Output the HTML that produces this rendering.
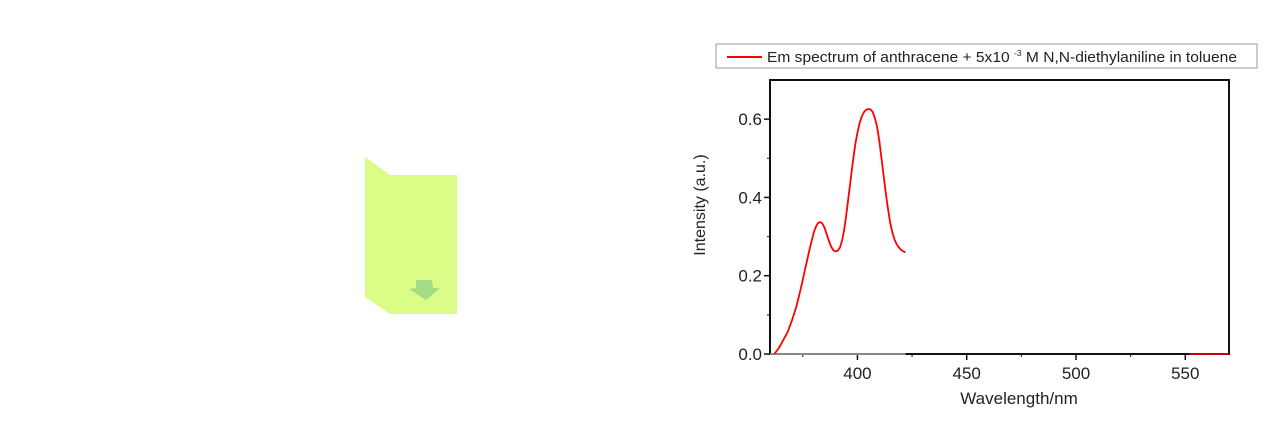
<!DOCTYPE html>
<html><head><meta charset="utf-8"><style>
body{margin:0;background:#fff;width:1272px;height:418px;overflow:hidden;font-family:"Liberation Sans",sans-serif}
</style></head><body>
<svg width="1272" height="418" font-family="Liberation Sans, sans-serif">
<g>
<polygon points="365,157 390,175 457,175 457,314 390,314 365,297" fill="#dcfc88"/>
<polygon points="416,280 432,280 433,288 440,288 426,300 409,289 416,288" fill="#a5dc88"/>
</g>
<g>
<rect x="716" y="44" width="541" height="24" fill="#fff" stroke="#999" stroke-width="1"/>
<line x1="727" y1="57" x2="762" y2="57" stroke="#f00" stroke-width="2"/>
<text x="767" y="62" font-size="14.5" fill="#222" textLength="470" lengthAdjust="spacingAndGlyphs">Em spectrum of anthracene + 5x10 <tspan dy="-6" font-size="8">-3</tspan><tspan dy="6"> M N,N-diethylaniline in toluene</tspan></text>
</g>
<g id="plot"></g>
<text x="1019" y="404" font-size="17" text-anchor="middle" fill="#222">Wavelength/nm</text>
<text transform="translate(705,205) rotate(-90)" font-size="16" text-anchor="middle" fill="#222">Intensity (a.u.)</text>
</svg>
<script>
const wavelengths=[362,364,366,368,370,372,374,376,378,380,381,382,383,384,385,386,387,388,389,390,391,392,393,394,395,396,397,398,399,400,401,402,403,404,405,406,407,408,409,410,411,412,413,414,415,416,417,418,419,420,421,422];
const intensities=[0,0.015,0.035,0.055,0.085,0.12,0.165,0.215,0.265,0.31,0.325,0.335,0.337,0.333,0.322,0.305,0.288,0.274,0.265,0.262,0.264,0.272,0.29,0.32,0.36,0.405,0.45,0.495,0.535,0.565,0.59,0.607,0.618,0.624,0.626,0.625,0.618,0.603,0.58,0.545,0.5,0.455,0.41,0.37,0.335,0.31,0.292,0.28,0.272,0.266,0.262,0.26];
const xTicks=[400,450,500,550];
const yTicks=[0.0,0.2,0.4,0.6];
const NS="http://www.w3.org/2000/svg";
const L=770,R=1229,T=80,B=354,xmin=360,xmax=570,ymin=0,ymax=0.7;
const X=v=>L+(v-xmin)/(xmax-xmin)*(R-L);
const Y=v=>B-(v-ymin)/(ymax-ymin)*(B-T);
const g=document.getElementById('plot');
function mk(t,a){const e=document.createElementNS(NS,t);for(const k in a)e.setAttribute(k,a[k]);g.appendChild(e);return e;}
const fr=mk('rect',{x:L,y:T,width:R-L,height:B-T,fill:'none',stroke:'#111','stroke-width':2});


xTicks.forEach(v=>{
const t=mk('line',{x1:X(v),y1:B,x2:X(v),y2:B+6,stroke:'#111','stroke-width':1.5});


const s=mk('text',{x:X(v),y:B+25,'font-size':17,'text-anchor':'middle',fill:'#222'});s.textContent=v;


});
[375,425,475,525].forEach(v=>{const t=mk('line',{x1:X(v),y1:B,x2:X(v),y2:B+3,stroke:'#111','stroke-width':1});

});
yTicks.forEach(v=>{
const t=mk('line',{x1:L-6,y1:Y(v),x2:L,y2:Y(v),stroke:'#111','stroke-width':1.5});


const s=mk('text',{x:L-8,y:Y(v)+6,'font-size':17,'text-anchor':'end',fill:'#222'});s.textContent=v.toFixed(1);


});
[0.1,0.3,0.5].forEach(v=>{const t=mk('line',{x1:L-3,y1:Y(v),x2:L,y2:Y(v),stroke:'#111','stroke-width':1});

});
const base=mk('line',{x1:X(360),y1:B,x2:X(422),y2:B,stroke:'#888','stroke-width':2});


const tail=mk('line',{x1:X(552),y1:B,x2:X(570),y2:B,stroke:'#f00','stroke-width':1.5});


const p=mk('polyline',{points:wavelengths.map((w,i)=>X(w)+','+Y(intensities[i])).join(' '),fill:'none',stroke:'#f00','stroke-width':1.8,'stroke-linejoin':'round'});


</script>
</body></html>
